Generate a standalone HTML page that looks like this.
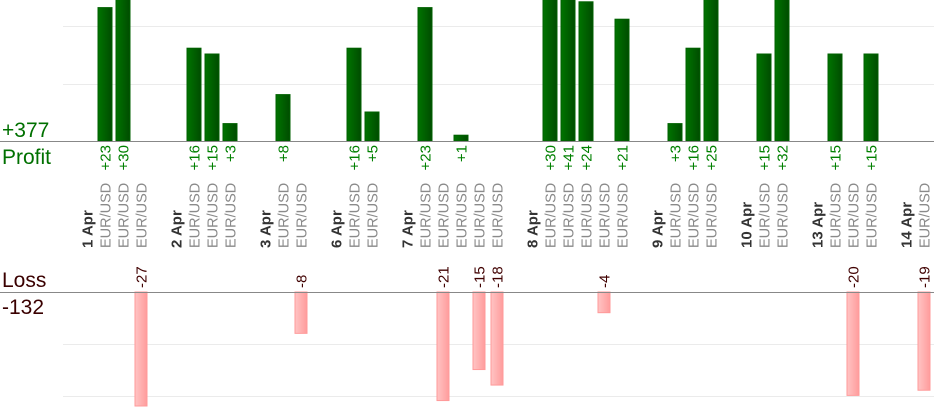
<!DOCTYPE html>
<html><head><meta charset="utf-8"><style>
html,body{margin:0;padding:0;background:#fff;}
svg{display:block;font-family:"Liberation Sans",Arial,sans-serif;}
</style></head><body>
<svg width="934" height="420" viewBox="0 0 934 420" xmlns="http://www.w3.org/2000/svg">
<defs>
<linearGradient id="g" x1="0" x2="1" y1="0" y2="0"><stop offset="0" stop-color="#007400"/><stop offset="1" stop-color="#004c00"/></linearGradient>
<linearGradient id="r" x1="0" x2="1" y1="0" y2="0"><stop offset="0" stop-color="#ffc4c4"/><stop offset="1" stop-color="#ff9c9c"/></linearGradient>
</defs>
<g stroke="#ebebeb" stroke-width="1">
<line x1="63" y1="26.5" x2="934" y2="26.5"/><line x1="63" y1="84.5" x2="934" y2="84.5"/>
<line x1="63" y1="344.5" x2="934" y2="344.5"/><line x1="63" y1="396.5" x2="934" y2="396.5"/>
</g>
<g id="bars"></g>
<line x1="0" y1="141.5" x2="934" y2="141.5" stroke="#888"/>
<line x1="0" y1="292.5" x2="934" y2="292.5" stroke="#888"/>
<text x="2" y="137" font-size="21" fill="#007000">+377</text>
<text x="2" y="164" font-size="21" fill="#007000">Profit</text>
<text x="2" y="287" font-size="21" fill="#3a0000">Loss</text>
<text x="2" y="314" font-size="21" fill="#3a0000">-132</text>
<g id="labels"></g>
</svg>
<script>
var days=[["1 Apr",87,[[105,23],[123,30],[141,-27]]],["2 Apr",176,[[194,16],[212,15],[230,3]]],["3 Apr",265,[[283,8],[301,-8]]],["6 Apr",336,[[354,16],[372,5]]],["7 Apr",407,[[425,23],[443,-21],[461,1],[479,-15],[497,-18]]],["8 Apr",532,[[550,30],[568,41],[586,24],[604,-4],[622,21]]],["9 Apr",657,[[675,3],[693,16],[711,25]]],["10 Apr",746,[[764,15],[782,32]]],["13 Apr",817,[[835,15],[853,-20],[871,15]]],["14 Apr",906,[[924,-19]]]];
var b="",l="";
days.forEach(function(d){
 l+='<text transform="translate('+(d[1]+5.5)+',248) rotate(-90)" font-size="15" font-weight="bold" fill="#333">'+d[0]+'</text>';
 d[2].forEach(function(t){
  var x=t[0],v=t[1];
  l+='<text transform="translate('+(x+5.5)+',248) rotate(-90)" font-size="14.5" fill="#8a8a8a">EUR/USD</text>';
  if(v>0){var top=Math.max(-2,141-v*5.8);
   b+='<rect x="'+(x-7)+'" y="'+top+'" width="14" height="'+(141-top)+'" fill="url(#g)" stroke="#006000" stroke-width="1"/>';
   l+='<text transform="translate('+(x+5.5)+',145) rotate(-90)" text-anchor="end" font-size="15" fill="#008000">+'+v+'</text>';
  }else{var bot=Math.min(406,292-v*5.17);
   b+='<rect x="'+(x-6)+'" y="292" width="12" height="'+(bot-292)+'" fill="url(#r)" stroke="#ff9a9a" stroke-width="1"/>';
   l+='<text transform="translate('+(x+5.5)+',288) rotate(-90)" font-size="15" fill="#400000">'+v+'</text>';
  }
 });
});
document.getElementById("bars").innerHTML=b;
document.getElementById("labels").innerHTML=l;
</script>
</body></html>
